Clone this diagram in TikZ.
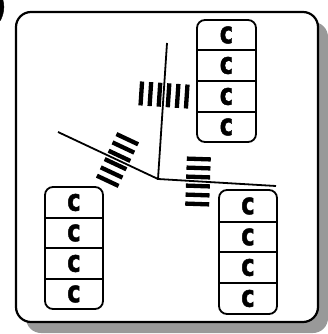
\documentclass[tikz,border=0pt]{standalone}
\usepackage{fontspec}
\newfontfamily\cfont[FakeStretch=0.76,FakeBold=1.5]{DejaVu Sans Bold}
\usetikzlibrary{calc}
\tikzset{
  frame/.style={draw=black, line width=2.2pt, fill=white, rounded corners=15pt},
  shadowbox/.style={fill=black!40, rounded corners=15pt},
  stack/.style={draw=black, line width=1.8pt, rounded corners=8pt},
  divider/.style={draw=black, line width=1.6pt},
  ray/.style={draw=black, line width=1.8pt},
  bar/.style={draw=black, line width=4.3pt},
  cell/.style={font=\cfont\fontsize{30}{30}\selectfont, inner sep=0pt, text=black},
}
\begin{document}
\begin{tikzpicture}[x=1pt,y=-1pt]
\useasboundingbox (0,0) rectangle (328,334);
% cropped label fragment
\node[font=\cfont\fontsize{30}{30}\selectfont, anchor=east, inner sep=0pt] (lbl) at (6,7) {)};
% shadow and frame
\path[shadowbox] (26,22) rectangle (328,333);
\path[frame] (16,12) rectangle (318,322);
% rays
\coordinate (ctr) at (158,179);
\coordinate (top) at (167,43);
\coordinate (lft) at (58,132);
\coordinate (rgt) at (276,186);
\draw[ray] (top) -- (ctr) -- (rgt);
\draw[ray] (lft) -- (ctr);
% bar gratings
\begin{scope}[shift={(164,95)}, rotate=-3.8]
  \foreach \k in {-2.5,-1.5,...,2.5} \draw[bar] (\k*9.1,-12) -- (\k*9.1,12);
\end{scope}
\begin{scope}[shift={(117.5,160)}, rotate=-25.2]
  \foreach \k in {-2.5,-1.5,...,2.5} \draw[bar] (-12,\k*9.2) -- (12,\k*9.2);
\end{scope}
\begin{scope}[shift={(198,181.5)}, rotate=-2]
  \foreach \k in {-2.5,-1.5,...,2.5} \draw[bar] (-12,\k*9) -- (12,\k*9);
\end{scope}
% stack top-right
\draw[stack] (197,20) rectangle (256,142);
\foreach \y in {50,81,112} \draw[divider] (197,\y) -- (256,\y);
\node[cell] (a1) at (226.5,35) {c};
\node[cell] (a2) at (226.5,65.5) {c};
\node[cell] (a3) at (226.5,96.5) {c};
\node[cell] (a4) at (226.5,127) {c};
% stack bottom-left
\draw[stack] (45,187) rectangle (103,309);
\foreach \y in {218,248,279} \draw[divider] (45,\y) -- (103,\y);
\node[cell] (b1) at (74,202.5) {c};
\node[cell] (b2) at (74,233) {c};
\node[cell] (b3) at (74,263.5) {c};
\node[cell] (b4) at (74,294) {c};
% stack bottom-right
\draw[stack] (219,190) rectangle (277,314);
\foreach \y in {222,252,283} \draw[divider] (219,\y) -- (277,\y);
\node[cell] (c1) at (248,206) {c};
\node[cell] (c2) at (248,237) {c};
\node[cell] (c3) at (248,267.5) {c};
\node[cell] (c4) at (248,298.5) {c};
\end{tikzpicture}
\end{document}
